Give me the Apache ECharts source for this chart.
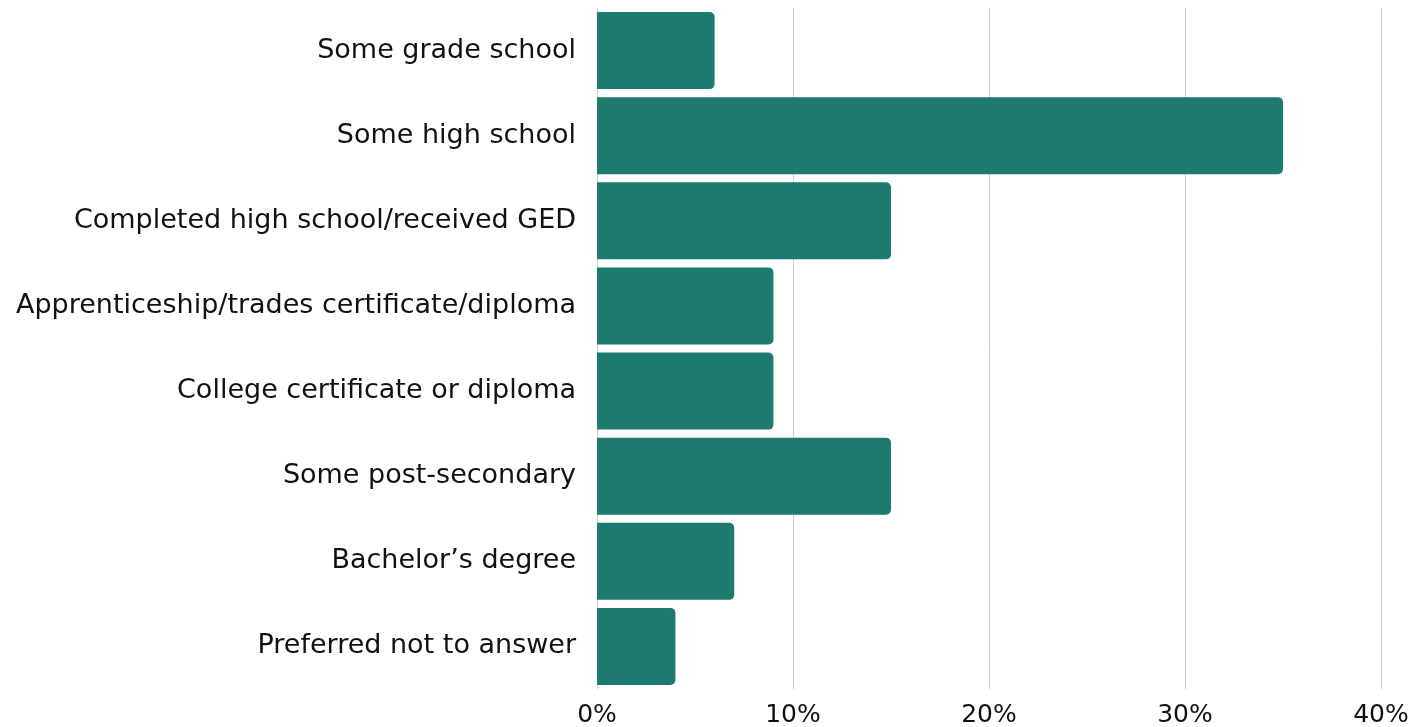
<!DOCTYPE html>
<html>
<head>
<meta charset="utf-8">
<script src="https://cdn.jsdelivr.net/npm/echarts@6/dist/echarts.min.js"></script>
<style>
  html, body { margin: 0; padding: 0; background: #ffffff; }
  #chart { width: 1425px; height: 727px; }
</style>
</head>
<body>
<div id="chart"></div>
<script>
// education levels, top to bottom
const categories = [
  'Some grade school',
  'Some high school',
  'Completed high school/received GED',
  'Apprenticeship/trades certificate/diploma',
  'College certificate or diploma',
  'Some post-secondary',
  'Bachelor\u2019s degree',
  'Preferred not to answer'
]
const shares = [6, 35, 15, 9, 9, 15, 7, 4]

const chart = echarts.init(document.getElementById('chart'))

const option = {
  animation: false,
  grid: {
    left: 597,
    right: 44,
    top: 8,
    bottom: 38,
    outerBoundsMode: 'none'
  },
  xAxis: {
    type: 'value',
    min: 0,
    max: 40,
    interval: 10,
    axisLine: { show: false },
    axisTick: { show: false },
    axisLabel: {
      formatter: '{value}%',
      color: '#111111',
      fontFamily: 'DejaVu Sans',
      fontSize: 25,
      margin: 14
    },
    splitLine: {
      show: true,
      lineStyle: { color: '#cccccc', width: 1 }
    }
  },
  yAxis: {
    type: 'category',
    data: categories,
    inverse: true,
    axisLine: { show: false },
    axisTick: { show: false },
    axisLabel: {
      color: '#111111',
      fontFamily: 'DejaVu Sans',
      fontSize: 27,
      margin: 21
    }
  },
  series: [
    {
      type: 'bar',
      data: shares,
      barCategoryGap: '9.4%',
      itemStyle: {
        color: '#1d7a6f',
        borderRadius: [0, 5, 5, 0]
      }
    }
  ]
}

chart.setOption(option)
</script>
</body>
</html>
